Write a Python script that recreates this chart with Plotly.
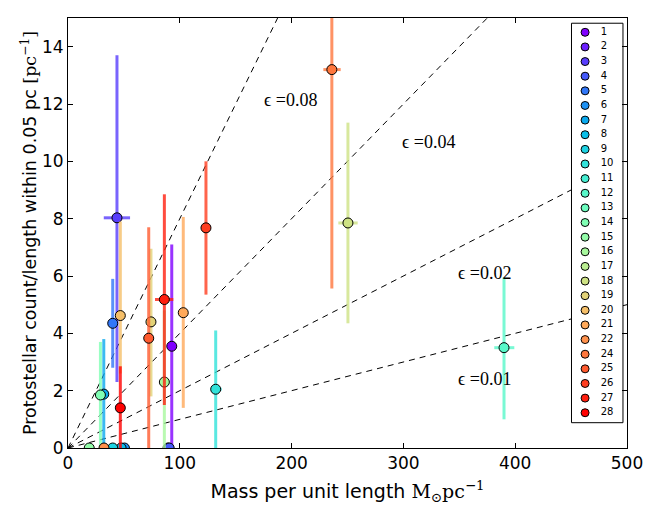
import plotly.graph_objects as go
import math

# ---- data ----
labels = ["1", "2", "3", "4", "5", "6", "7", "8", "9", "10", "11", "12", "13", "14",
          "15", "16", "17", "18", "19", "20", "21", "22", "24", "25", "26", "27", "28"]
mass = [92.8, 89.5, 43.8, 90.5, 40.0, 50.5, 32.0, 47.5, 40.0, 132.1, None, 390.0, None, 29.0,
        19.0, 86.2, None, 250.4, 74.2, 46.8, 103.1, 32.2, 236.0, 72.2, 123.4, 86.2, 46.8]
count = [3.55, 0.0, 8.03, 0.0, 4.35, 0.0, 1.88, 0.0, 0.0, 2.05, None, 3.5, None, 1.85,
         0.0, 2.3, None, 7.85, 4.4, 4.62, 4.72, 0.0, 13.2, 3.83, 7.68, 5.18, 1.4]
mass_lo = [None, None, 32.0, None, None, None, None, None, None, 128.5, None, 381.3, None, None,
           None, None, None, 241.8, None, None, None, None, 228.4, None, None, 77.8, None]
mass_hi = [None, None, 55.5, None, None, None, None, None, None, 137.5, None, 399.2, None, None,
           None, None, None, 259.1, None, None, None, None, 243.9, None, None, 94.2, None]
count_lo = [0.0, None, 2.3, None, 2.8, None, 0.0, None, None, 0.0, None, 1.0, None, 0.0,
            None, 0.0, None, 4.35, 1.8, 2.6, 1.4, None, 5.56, 0.0, 5.35, 1.5, 0.0]
count_hi = [7.1, None, 13.7, None, 5.9, None, 3.8, None, None, 4.1, None, 5.95, None, 3.7,
            None, 4.8, None, 11.35, 6.95, 7.9, 8.06, None, 21.0, 7.7, 10.0, 8.85, 2.85]

eps_values = [0.08, 0.04, 0.02, 0.01]
eps_texts = ["ϵ =0.08", "ϵ =0.04", "ϵ =0.02", "ϵ =0.01"]
eps_text_x = [198.6, 322.0, 372.4, 372.4]
eps_text_y = [12.13, 10.66, 6.12, 2.39]
line_mass = [0, 500]

x_ticks = [0, 100, 200, 300, 400, 500]
y_ticks = [0, 2, 4, 6, 8, 10, 12, 14]


def rainbow(t, a=1.0):
    r = min(1.0, max(0.0, abs(2 * t - 0.5)))
    g = min(1.0, max(0.0, math.sin(t * math.pi)))
    b = min(1.0, max(0.0, math.cos(t * math.pi / 2)))
    return "rgba(%d,%d,%d,%.2f)" % (round(r * 255), round(g * 255), round(b * 255), a)


n = len(labels)
colors = [rainbow(k / (n - 1)) for k in range(n)]
bar_colors = [rainbow(k / (n - 1), 0.8) for k in range(n)]

fig = go.Figure()

# model lines
for eps in eps_values:
    fig.add_trace(go.Scatter(
        x=line_mass, y=[eps * m for m in line_mass], mode="lines",
        line=dict(color="black", width=1, dash="6px,5px"),
        showlegend=False, hoverinfo="skip"))

# data points
for i in range(n):
    if mass[i] is None:
        continue
    kw = {}
    if count_lo[i] is not None:
        kw["error_y"] = dict(type="data", symmetric=False,
                             array=[count_hi[i] - count[i]], arrayminus=[count[i] - count_lo[i]],
                             color=bar_colors[i], thickness=3, width=0)
    if mass_lo[i] is not None:
        kw["error_x"] = dict(type="data", symmetric=False,
                             array=[mass_hi[i] - mass[i]], arrayminus=[mass[i] - mass_lo[i]],
                             color=bar_colors[i], thickness=3, width=0)
    fig.add_trace(go.Scatter(
        x=[mass[i]], y=[count[i]], mode="markers", name=labels[i],
        marker=dict(size=10, color=colors[i], line=dict(color="black", width=1)),
        showlegend=False, **kw))

# hand-made legend drawn on an overlay axis (row index as coordinate)
rows = list(range(n))
fig.add_trace(go.Scatter(
    x=[0.9007, 0.9928, 0.9928, 0.9007, 0.9007], y=[-0.62, -0.62, 26.68, 26.68, -0.62],
    mode="lines", fill="toself", fillcolor="white", line=dict(color="black", width=1),
    xaxis="x2", yaxis="y2", showlegend=False, hoverinfo="skip"))
fig.add_trace(go.Scatter(
    x=[0.925] * n, y=rows, mode="markers",
    marker=dict(size=8, color=colors, line=dict(color="black", width=1)),
    xaxis="x2", yaxis="y2", showlegend=False, hoverinfo="skip"))
fig.add_trace(go.Scatter(
    x=[0.953] * n, y=rows, mode="text", text=labels, textposition="middle right",
    textfont=dict(family="DejaVu Sans", size=10, color="black"),
    xaxis="x2", yaxis="y2", showlegend=False, hoverinfo="skip"))

for t, tx, ty in zip(eps_texts, eps_text_x, eps_text_y):
    fig.add_annotation(x=tx, y=ty, xref="x", yref="y", text=t, showarrow=False,
                       font=dict(family="Liberation Serif", size=18, color="black"))

serif = "font-family:'DejaVu Serif'"
fig.update_layout(
    width=664, height=505,
    margin=dict(l=68, r=37, t=18, b=57),
    paper_bgcolor="white", plot_bgcolor="white",
    font=dict(family="DejaVu Sans", color="black"),
    xaxis=dict(range=[0, 500], tickvals=x_ticks, ticks="inside", ticklen=5,
               tickcolor="black", showline=True, linecolor="black", linewidth=1,
               mirror="ticks", showgrid=False, zeroline=False, automargin=False,
               tickfont=dict(size=17),
               title=dict(text="Mass per unit length <span style=\"" + serif + "\">M<sub>⊙</sub>pc<sup>−1</sup></span>",
                          font=dict(size=19), standoff=15)),
    yaxis=dict(range=[0, 15], tickvals=y_ticks, ticks="inside", ticklen=5,
               tickcolor="black", showline=True, linecolor="black", linewidth=1,
               mirror="ticks", showgrid=False, zeroline=False, automargin=False,
               tickfont=dict(size=17),
               title=dict(text="Protostellar count/length within 0.05 pc <span style=\"" + serif + "\">[pc<sup>−1</sup>]</span>",
                          font=dict(size=17.5), standoff=0)),
    xaxis2=dict(overlaying="x", range=[0, 1], visible=False),
    yaxis2=dict(overlaying="y", range=[28.41, -0.977], visible=False),
)

fig.write_html("out.html", config={"displayModeBar": False},
               post_script="document.body.style.margin='0';document.body.style.overflow='hidden';")
